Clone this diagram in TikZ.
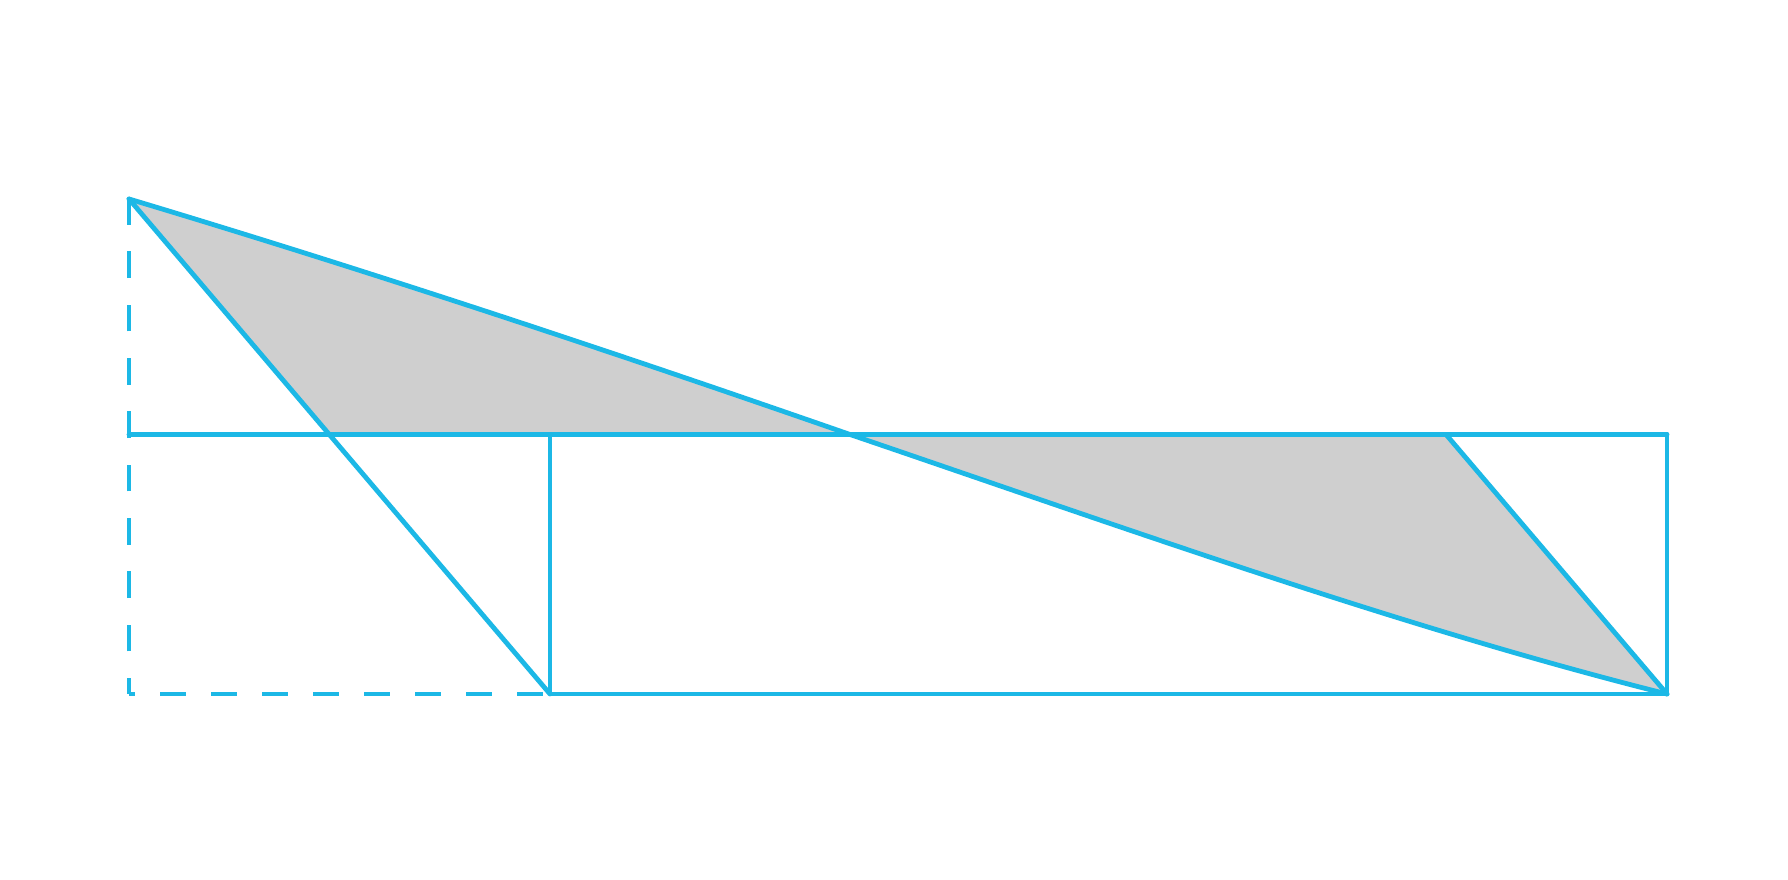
\documentclass[tikz,border=0pt]{standalone}
\definecolor{lineblue}{RGB}{28,184,230}
\definecolor{fillgray}{RGB}{207,207,207}
\begin{document}
\begin{tikzpicture}[x=0.01cm,y=-0.01cm,
  edge/.style={draw=lineblue,line width=0.048cm,line join=round,line cap=round},
  vdash/.style={draw=lineblue,line width=0.048cm,dash pattern=on 0.267cm off 0.266cm,dash phase=0.107cm},
  hdash/.style={draw=lineblue,line width=0.048cm,dash pattern=on 0.26cm off 0.25cm,dash phase=0.20cm}]
\useasboundingbox[fill=white] (0,0) rectangle (1788,880);
\coordinate (A) at (129,199);
\coordinate (L) at (129,434.5);
\coordinate (O) at (129,694);
\coordinate (B) at (550,694);
\coordinate (C) at (550,434.5);
\coordinate (D) at (1667,694);
\coordinate (E) at (1667,434.5);
\coordinate (F) at (1446,434.5);
\coordinate (M) at (850,434.5);
\coordinate (P) at (329.3,434.5);
% gray regions
\fill[fillgray] (A) .. controls (369,271) and (610,351) .. (M) -- (P) -- cycle;
\fill[fillgray] (M) .. controls (1122,527) and (1400,627) .. (D) -- (F) -- cycle;
% dashed lines
\draw[vdash] (O) -- (A);
\draw[hdash] (O) -- (B);
% solid lines
\draw[edge] (L) -- (E);
\draw[edge] (C) -- (B) -- (D) -- (E);
\draw[edge] (A) -- (B);
\draw[edge] (F) -- (D);
\draw[edge] (A) .. controls (369,271) and (610,351) .. (M) .. controls (1122,527) and (1400,627) .. (D);
\end{tikzpicture}
\end{document}
